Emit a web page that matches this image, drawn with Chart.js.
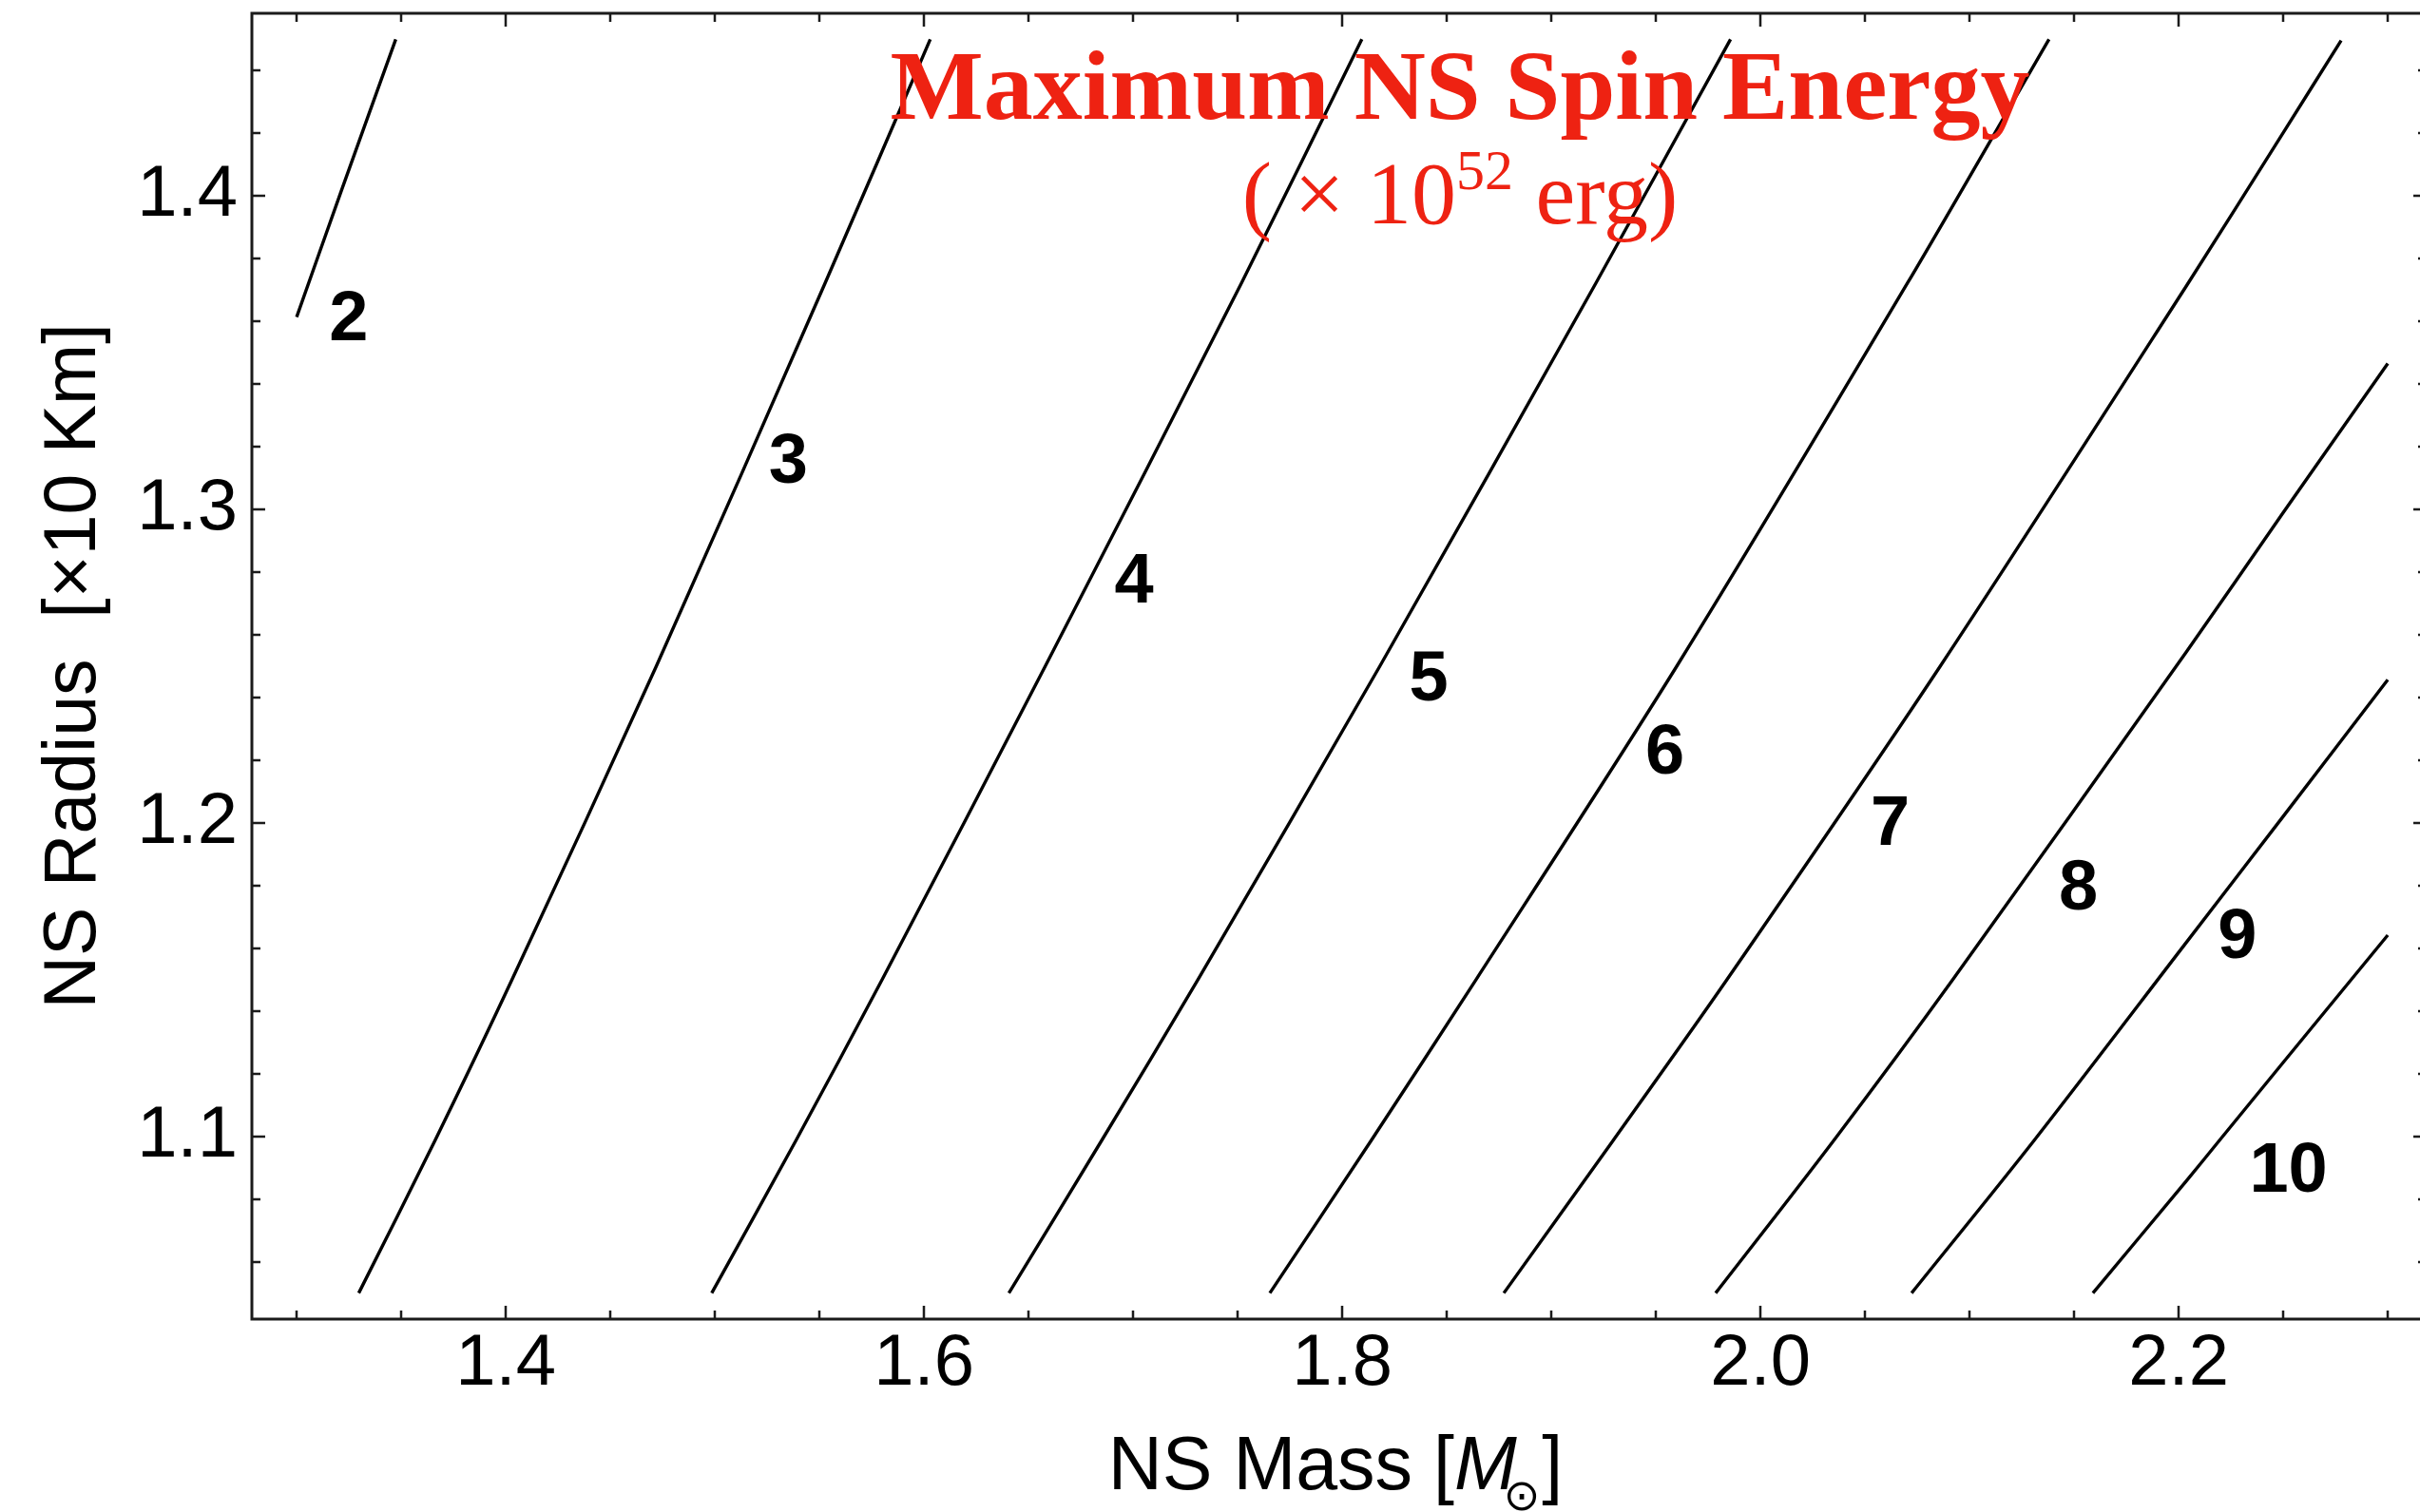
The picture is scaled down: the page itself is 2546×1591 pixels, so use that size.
<!DOCTYPE html>
<html>
<head>
<meta charset="utf-8">
<script src="https://cdn.jsdelivr.net/npm/chart.js@4.4.1/dist/chart.umd.min.js"></script>
<style>
  html, body { margin: 0; padding: 0; background: #fff; overflow: hidden; }
  #wrap { width: 2546px; height: 1591px; overflow: hidden; }
</style>
</head>
<body>
<div id="wrap"><canvas id="spinChart" width="2560" height="1591"></canvas></div>
<script>
// contour lines: NS mass [Msun] vs NS radius [x10 km]
const e2Mass = [1.300, 1.3216, 1.3474];
const e2Radius = [1.3614, 1.4021, 1.45];
const e3Mass = [1.3297, 1.3662, 1.403, 1.472, 1.5527, 1.603];
const e3Radius = [1.05, 1.0987, 1.15, 1.25, 1.3722, 1.45];
const e4Mass = [1.4985, 1.5388, 1.580, 1.658, 1.7518, 1.8094];
const e4Radius = [1.05, 1.0987, 1.15, 1.25, 1.3722, 1.45];
const e5Mass = [1.6406, 1.6850, 1.731, 1.818, 1.9213, 1.9857];
const e5Radius = [1.05, 1.0987, 1.15, 1.25, 1.3722, 1.45];
const e6Mass = [1.7654, 1.8139, 1.864, 1.960, 2.0703, 2.138];
const e6Radius = [1.05, 1.0987, 1.15, 1.25, 1.3722, 1.45];
const e7Mass = [1.8773, 1.9296, 1.984, 2.086, 2.2036, 2.2498, 2.2777];
const e7Radius = [1.05, 1.0987, 1.15, 1.25, 1.3712, 1.420, 1.4496];
const e8Mass = [1.9786, 2.0351, 2.092, 2.2036, 2.2498, 2.30];
const e8Radius = [1.05, 1.0987, 1.15, 1.2545, 1.2988, 1.3466];
const e9Mass = [2.0723, 2.1309, 2.2036, 2.2498, 2.30];
const e9Radius = [1.05, 1.0987, 1.1618, 1.2019, 1.2457];
const e10Mass = [2.159, 2.2036, 2.2195, 2.2498, 2.30];
const e10Radius = [1.05, 1.0857, 1.0987, 1.1234, 1.1642];

// contour level labels and where they sit
const levels = ["2", "3", "4", "5", "6", "7", "8", "9", "10"];
const labelMass = [1.3249, 1.5351, 1.7005, 1.8414, 1.9543, 2.0621, 2.1521, 2.2281, 2.2525];
const labelRadius = [1.3601, 1.3148, 1.2764, 1.2454, 1.2218, 1.1991, 1.1785, 1.1632, 1.0884];

const massTicks = [1.4, 1.6, 1.8, 2.0, 2.2];
const radiusTicks = [1.1, 1.2, 1.3, 1.4];

const contours = [
  [e2Mass, e2Radius], [e3Mass, e3Radius], [e4Mass, e4Radius], [e5Mass, e5Radius],
  [e6Mass, e6Radius], [e7Mass, e7Radius], [e8Mass, e8Radius], [e9Mass, e9Radius],
  [e10Mass, e10Radius]
];

const RED = "#ee2212";
const SANS = "'Liberation Sans', Arial, sans-serif";
const SERIF = "'Liberation Serif', 'Times New Roman', serif";

function isTick(v, list) {
  return list.some((t) => Math.abs(t - v) < 1e-6);
}

const framePlugin = {
  id: "frame",
  afterDatasetsDraw(chart) {
    const { ctx, chartArea: a, scales } = chart;
    const x = scales.x, y = scales.y;
    ctx.save();
    ctx.strokeStyle = "#1b1b1b";
    ctx.lineWidth = 3;
    ctx.strokeRect(a.left, a.top, a.right - a.left, a.bottom - a.top);
    ctx.lineWidth = 2.5;
    ctx.beginPath();
    x.ticks.forEach((t) => {
      const px = Math.round(x.getPixelForValue(t.value));
      const len = isTick(t.value, massTicks) ? 14 : 9;
      ctx.moveTo(px, a.bottom); ctx.lineTo(px, a.bottom - len);
      ctx.moveTo(px, a.top); ctx.lineTo(px, a.top + len);
    });
    y.ticks.forEach((t) => {
      const py = Math.round(y.getPixelForValue(t.value));
      const len = isTick(t.value, radiusTicks) ? 14 : 9;
      ctx.moveTo(a.left, py); ctx.lineTo(a.left + len, py);
      ctx.moveTo(a.right, py); ctx.lineTo(a.right - len, py);
    });
    ctx.stroke();
    ctx.restore();
  },
  afterDraw(chart) {
    const { ctx, chartArea: a, scales } = chart;
    const x = scales.x, y = scales.y;
    ctx.save();

    // contour labels
    ctx.fillStyle = "#000";
    ctx.font = "bold 74px " + SANS;
    ctx.textAlign = "center";
    ctx.textBaseline = "middle";
    levels.forEach((lab, i) => {
      ctx.fillText(lab, x.getPixelForValue(labelMass[i]), y.getPixelForValue(labelRadius[i]));
    });

    // title
    const cx = 1536;
    ctx.fillStyle = RED;
    ctx.textBaseline = "alphabetic";
    ctx.font = "bold 104px " + SERIF;
    ctx.fillText("Maximum NS Spin Energy", cx, 125);

    const big = "94px " + SERIF, small = "60px " + SERIF;
    const p1 = "( \u00d7 10", p2 = "52", p3 = " erg)";
    ctx.font = big; const w1 = ctx.measureText(p1).width, w3 = ctx.measureText(p3).width;
    ctx.font = small; const w2 = ctx.measureText(p2).width;
    let sx = cx - (w1 + w2 + w3) / 2;
    const base2 = 235;
    ctx.textAlign = "left";
    ctx.font = big; ctx.fillText(p1, sx, base2); sx += w1;
    ctx.font = small; ctx.fillText(p2, sx, base2 - 36); sx += w2;
    ctx.font = big; ctx.fillText(p3, sx, base2);

    // x axis title: NS Mass [M_sun]
    ctx.fillStyle = "#000";
    const xb = 1567;
    const q1 = "NS Mass [", q3 = "]";
    const f = "79px " + SANS;
    ctx.font = f; const v1 = ctx.measureText(q1).width;
    ctx.font = "italic " + f; const v2 = ctx.measureText("M").width;
    ctx.font = "46px 'DejaVu Sans'"; const v3 = ctx.measureText("\u2299").width;
    ctx.font = f; const v4 = ctx.measureText(q3).width;
    let tx = (a.left + 2545) / 2 - (v1 + v2 - 14 + v3 + 2 + v4) / 2;
    ctx.font = f; ctx.fillText(q1, tx, xb); tx += v1;
    ctx.font = "italic " + f; ctx.fillText("M", tx, xb); tx += v2 - 14;
    ctx.font = "46px 'DejaVu Sans'"; ctx.fillText("\u2299", tx, xb + 22); tx += v3 + 2;
    ctx.font = f; ctx.fillText(q3, tx, xb);

    // y axis title
    ctx.translate(100, (a.top + a.bottom) / 2);
    ctx.rotate(-Math.PI / 2);
    ctx.textAlign = "center";
    ctx.font = "77px " + SANS;
    ctx.fillText("NS Radius  [\u00d710 Km]", 0, 0);
    ctx.restore();
  }
};

const datasets = contours.map(([mass, radius], i) => ({
  label: levels[i],
  data: mass.map((m, k) => ({ x: m, y: radius[k] })),
  showLine: true,
  borderColor: "#000",
  borderWidth: 3.4,
  pointRadius: 0,
  tension: 0.3,
  fill: false
}));

Chart.defaults.color = "#000";

new Chart(document.getElementById("spinChart"), {
  type: "scatter",
  data: { datasets: datasets },
  options: {
    responsive: false,
    animation: false,
    devicePixelRatio: 1,
    layout: { padding: { top: 14, right: 7, left: 0, bottom: 0 } },
    plugins: { legend: { display: false }, tooltip: { enabled: false } },
    scales: {
      x: {
        type: "linear",
        min: 1.2786,
        max: 2.3186,
        grid: { display: false, drawTicks: false },
        border: { display: false },
        afterFit: (scale) => {
          scale.height = 203;
          scale.paddingLeft = 0;
          scale.paddingRight = 0;
        },
        ticks: {
          stepSize: 0.05,
          includeBounds: false,
          autoSkip: false,
          maxRotation: 0,
          padding: 2,
          font: { family: SANS, size: 76 },
          callback: (v) => (isTick(v, massTicks) ? v.toFixed(1) : "")
        }
      },
      y: {
        type: "linear",
        min: 1.0417,
        max: 1.4583,
        grid: { display: false, drawTicks: false },
        border: { display: false },
        afterFit: (scale) => {
          scale.width = 265;
          scale.paddingTop = 0;
          scale.paddingBottom = 0;
        },
        ticks: {
          stepSize: 0.02,
          includeBounds: false,
          autoSkip: false,
          padding: 15,
          font: { family: SANS, size: 76 },
          callback: (v) => (isTick(v, radiusTicks) ? v.toFixed(1) : "")
        }
      }
    }
  },
  plugins: [framePlugin]
});
</script>
</body>
</html>
